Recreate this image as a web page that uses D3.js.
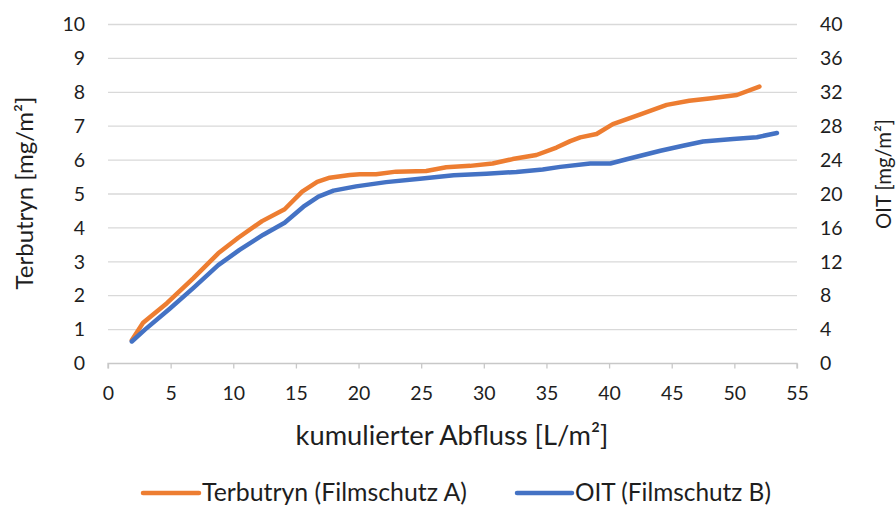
<!DOCTYPE html>
<html><head><meta charset="utf-8">
<script src="https://cdn.jsdelivr.net/npm/d3@7/dist/d3.min.js"></script>
<style>body{margin:0;background:#fff;} text{font-family:Lato,"Noto Sans",sans-serif;fill:#1e1e1e;}</style>
</head><body><svg id="c" width="896" height="505"></svg>
<script>
const terbX = [1.9,2.8,4.7,6.8,8.8,10.4,12.3,14.1,15.5,16.7,17.7,19.3,20.1,21.4,23.0,25.4,27.0,28.9,30.7,32.3,34.2,35.8,36.9,37.7,39.0,40.3,42.5,44.6,46.4,48.0,50.2,52.0];
const terbY = [0.69,1.2,1.78,2.51,3.25,3.71,4.2,4.55,5.07,5.36,5.48,5.56,5.58,5.58,5.66,5.68,5.79,5.83,5.9,6.03,6.15,6.37,6.56,6.67,6.77,7.06,7.35,7.63,7.75,7.82,7.92,8.17];
const oitX = [1.9,2.95,4.95,6.8,8.8,10.5,12.4,14.1,15.6,16.8,18.0,19.8,22.2,24.9,27.6,30.2,32.6,34.7,36.1,38.5,40.1,41.4,44.1,45.9,47.5,49.9,51.8,53.4];
const oitY = [2.6,4.0,6.5,8.9,11.6,13.4,15.2,16.6,18.5,19.7,20.4,20.9,21.4,21.8,22.2,22.4,22.6,22.9,23.2,23.6,23.6,24.1,25.1,25.7,26.2,26.5,26.7,27.2];
const xTicks = [0,5,10,15,20,25,30,35,40,45,50,55];
const yLeftTicks = [0,1,2,3,4,5,6,7,8,9,10];
const yRightTicks = [0,4,8,12,16,20,24,28,32,36,40];
const seriesNames = ["Terbutryn (Filmschutz A)","OIT (Filmschutz B)"];
const colors = ["#ED7D31","#4472C4"];

const svg = d3.select("#c");
const L=108, R=797, T=24.5, B=363.5;
const x = d3.scaleLinear().domain([0,55]).range([L,R]);
const yL = d3.scaleLinear().domain([0,10]).range([B,T]);
const yR = d3.scaleLinear().domain([0,40]).range([B,T]);

function fit(sel, w){
  const n = sel.node(); const fs = +sel.attr("font-size"); const cw = n.getComputedTextLength();
  sel.attr("font-size", fs*w/cw);
}

svg.append("g").selectAll("line").data(yLeftTicks.slice(1)).join("line")
  .attr("x1",L).attr("x2",R).attr("y1",d=>yL(d)).attr("y2",d=>yL(d))
  .attr("stroke","#d9d9d9").attr("stroke-width",1.3);

const TF = 19.5;
const xa = svg.append("g").attr("transform",`translate(0,${B})`)
  .call(d3.axisBottom(x).tickValues(xTicks).tickSize(5).tickPadding(18).tickFormat(d3.format("d")));
xa.select(".domain").attr("stroke","#c8c8c8").attr("stroke-width",1.3).attr("d",`M${L},5V0H${R}V5`);
xa.selectAll(".tick line").attr("stroke","#c8c8c8").attr("stroke-width",1.3);
xa.selectAll("text").attr("font-size",TF).style("fill","#1e1e1e").attr("font-family","Lato");

const ya = svg.append("g").attr("transform",`translate(${L},0)`)
  .call(d3.axisLeft(yL).tickValues(yLeftTicks).tickSize(0).tickPadding(23));
ya.select(".domain").remove();
ya.selectAll("text").attr("font-size",TF).style("fill","#1e1e1e").attr("font-family","Lato");

const yra = svg.append("g").attr("transform",`translate(${R},0)`)
  .call(d3.axisRight(yR).tickValues(yRightTicks).tickSize(0).tickPadding(23));
yra.select(".domain").remove();
yra.selectAll("text").attr("font-size",TF).style("fill","#1e1e1e").attr("font-family","Lato");

const lineL = d3.line().x(d=>x(d[0])).y(d=>yL(d[1]));
const lineR = d3.line().x(d=>x(d[0])).y(d=>yR(d[1]));
svg.append("path").datum(d3.zip(terbX,terbY)).attr("d",lineL)
  .attr("fill","none").attr("stroke",colors[0]).attr("stroke-width",4.5).attr("stroke-linejoin","round").attr("stroke-linecap","round");
svg.append("path").datum(d3.zip(oitX,oitY)).attr("d",lineR)
  .attr("fill","none").attr("stroke",colors[1]).attr("stroke-width",4.5).attr("stroke-linejoin","round").attr("stroke-linecap","round");

const xt = svg.append("text").attr("x",452).attr("y",445).attr("text-anchor","middle").attr("font-size",20).text("kumulierter Abfluss [L/m²]");
fit(xt,313);
const lt = svg.append("text").attr("transform","translate(33,193) rotate(-90)").attr("text-anchor","middle").attr("font-size",20).text("Terbutryn [mg/m²]");
fit(lt,193);
const rt = svg.append("text").attr("transform","translate(891,174) rotate(-90)").attr("text-anchor","middle").attr("font-size",20).text("OIT [mg/m²]");
fit(rt,110);

const leg = [{x1:143,x2:199,tx:202,w:265},{x1:517,x2:572,tx:575,w:196}];
leg.forEach((l,i)=>{
  svg.append("line").attr("x1",l.x1).attr("x2",l.x2).attr("y1",493).attr("y2",493)
    .attr("stroke",colors[i]).attr("stroke-width",4.5).attr("stroke-linecap","round");
  const t = svg.append("text").attr("x",l.tx).attr("y",500.5).attr("font-size",18).text(seriesNames[i]);
  fit(t,l.w);
});
</script></body></html>
